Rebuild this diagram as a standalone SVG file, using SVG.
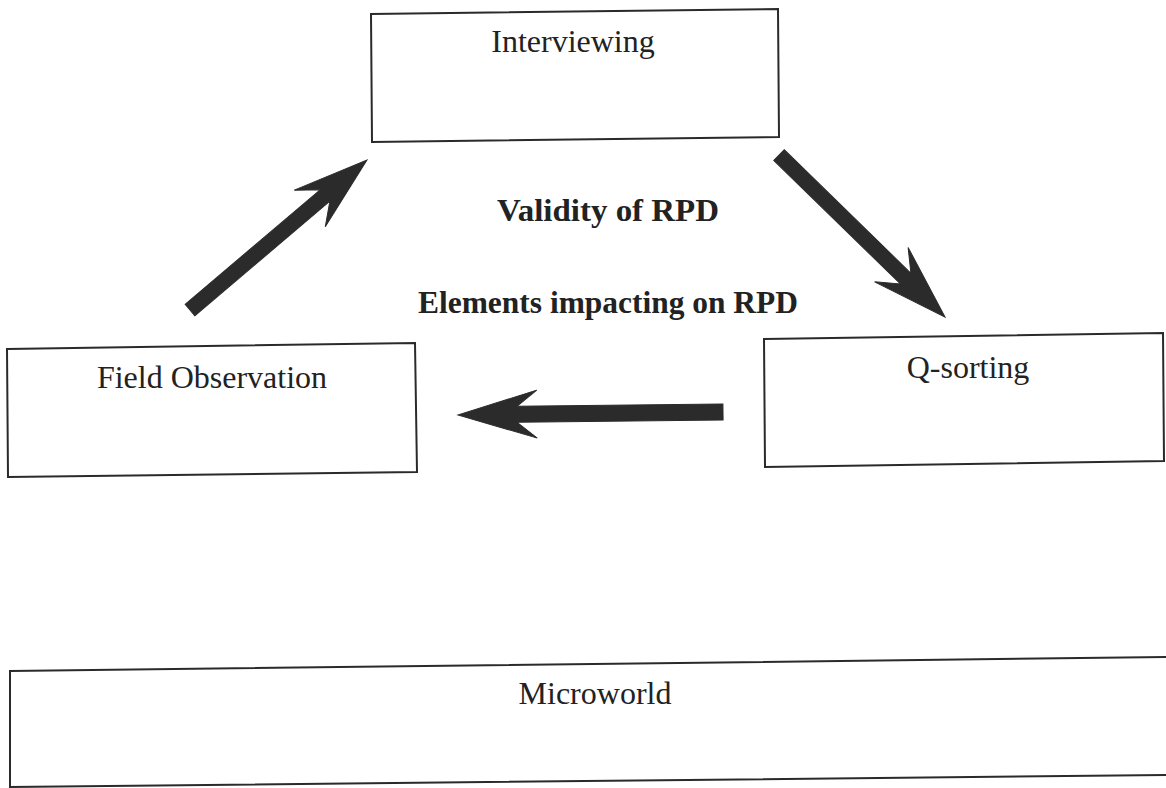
<svg xmlns="http://www.w3.org/2000/svg" width="1166" height="788" viewBox="0 0 1166 788">
<style>
.box{fill:#fff;stroke:#2a2a2a;stroke-width:2}
.lbl{font-family:"Liberation Serif","Times New Roman",serif;font-size:32px;fill:#222;text-anchor:middle}
.bold{font-family:"Liberation Serif","Times New Roman",serif;font-size:32px;font-weight:bold;fill:#222;text-anchor:middle}
.arr{fill:#2b2b2b;stroke:#2b2b2b;stroke-width:1;stroke-linejoin:miter}
</style>
<rect width="1166" height="788" fill="#fff"/>
<g id="interviewing">
<polygon class="box" points="371,14 778,9 779,137 372,142"/>
<text class="lbl" x="573" y="52">Interviewing</text>
</g>
<g id="field-observation">
<polygon class="box" points="7,349 415,343 417,472 8,477"/>
<text class="lbl" x="212" y="388">Field Observation</text>
</g>
<g id="q-sorting">
<polygon class="box" points="764,339 1163,333 1164,461 765,467"/>
<text class="lbl" x="968" y="378">Q-sorting</text>
</g>
<g id="microworld">
<polygon class="box" points="10,671 1168,657 1168,775 10,787"/>
<text class="lbl" x="595" y="704">Microworld</text>
</g>
<g id="labels">
<text class="bold" x="608" y="221" textLength="222" lengthAdjust="spacingAndGlyphs">Validity of RPD</text>
<text class="bold" x="608" y="313" textLength="380" lengthAdjust="spacingAndGlyphs">Elements impacting on RPD</text>
</g>
<g id="connectors">
<path class="arr" transform="translate(190,310) rotate(-40.3)" d="M0,-7.5 L177,-7.5 L157,-24 L232,0 L157,24 L177,7.5 L0,7.5 Z"/>
<path class="arr" transform="translate(779,155) rotate(44.3)" d="M0,-7.5 L177,-7.5 L157,-24 L232,0 L157,24 L177,7.5 L0,7.5 Z"/>
<path class="arr" transform="translate(723,412) rotate(179.35)" d="M0,-8 L206,-8 L186,-24 L265,0 L186,24 L206,8 L0,8 Z"/>
</g>
</svg>
